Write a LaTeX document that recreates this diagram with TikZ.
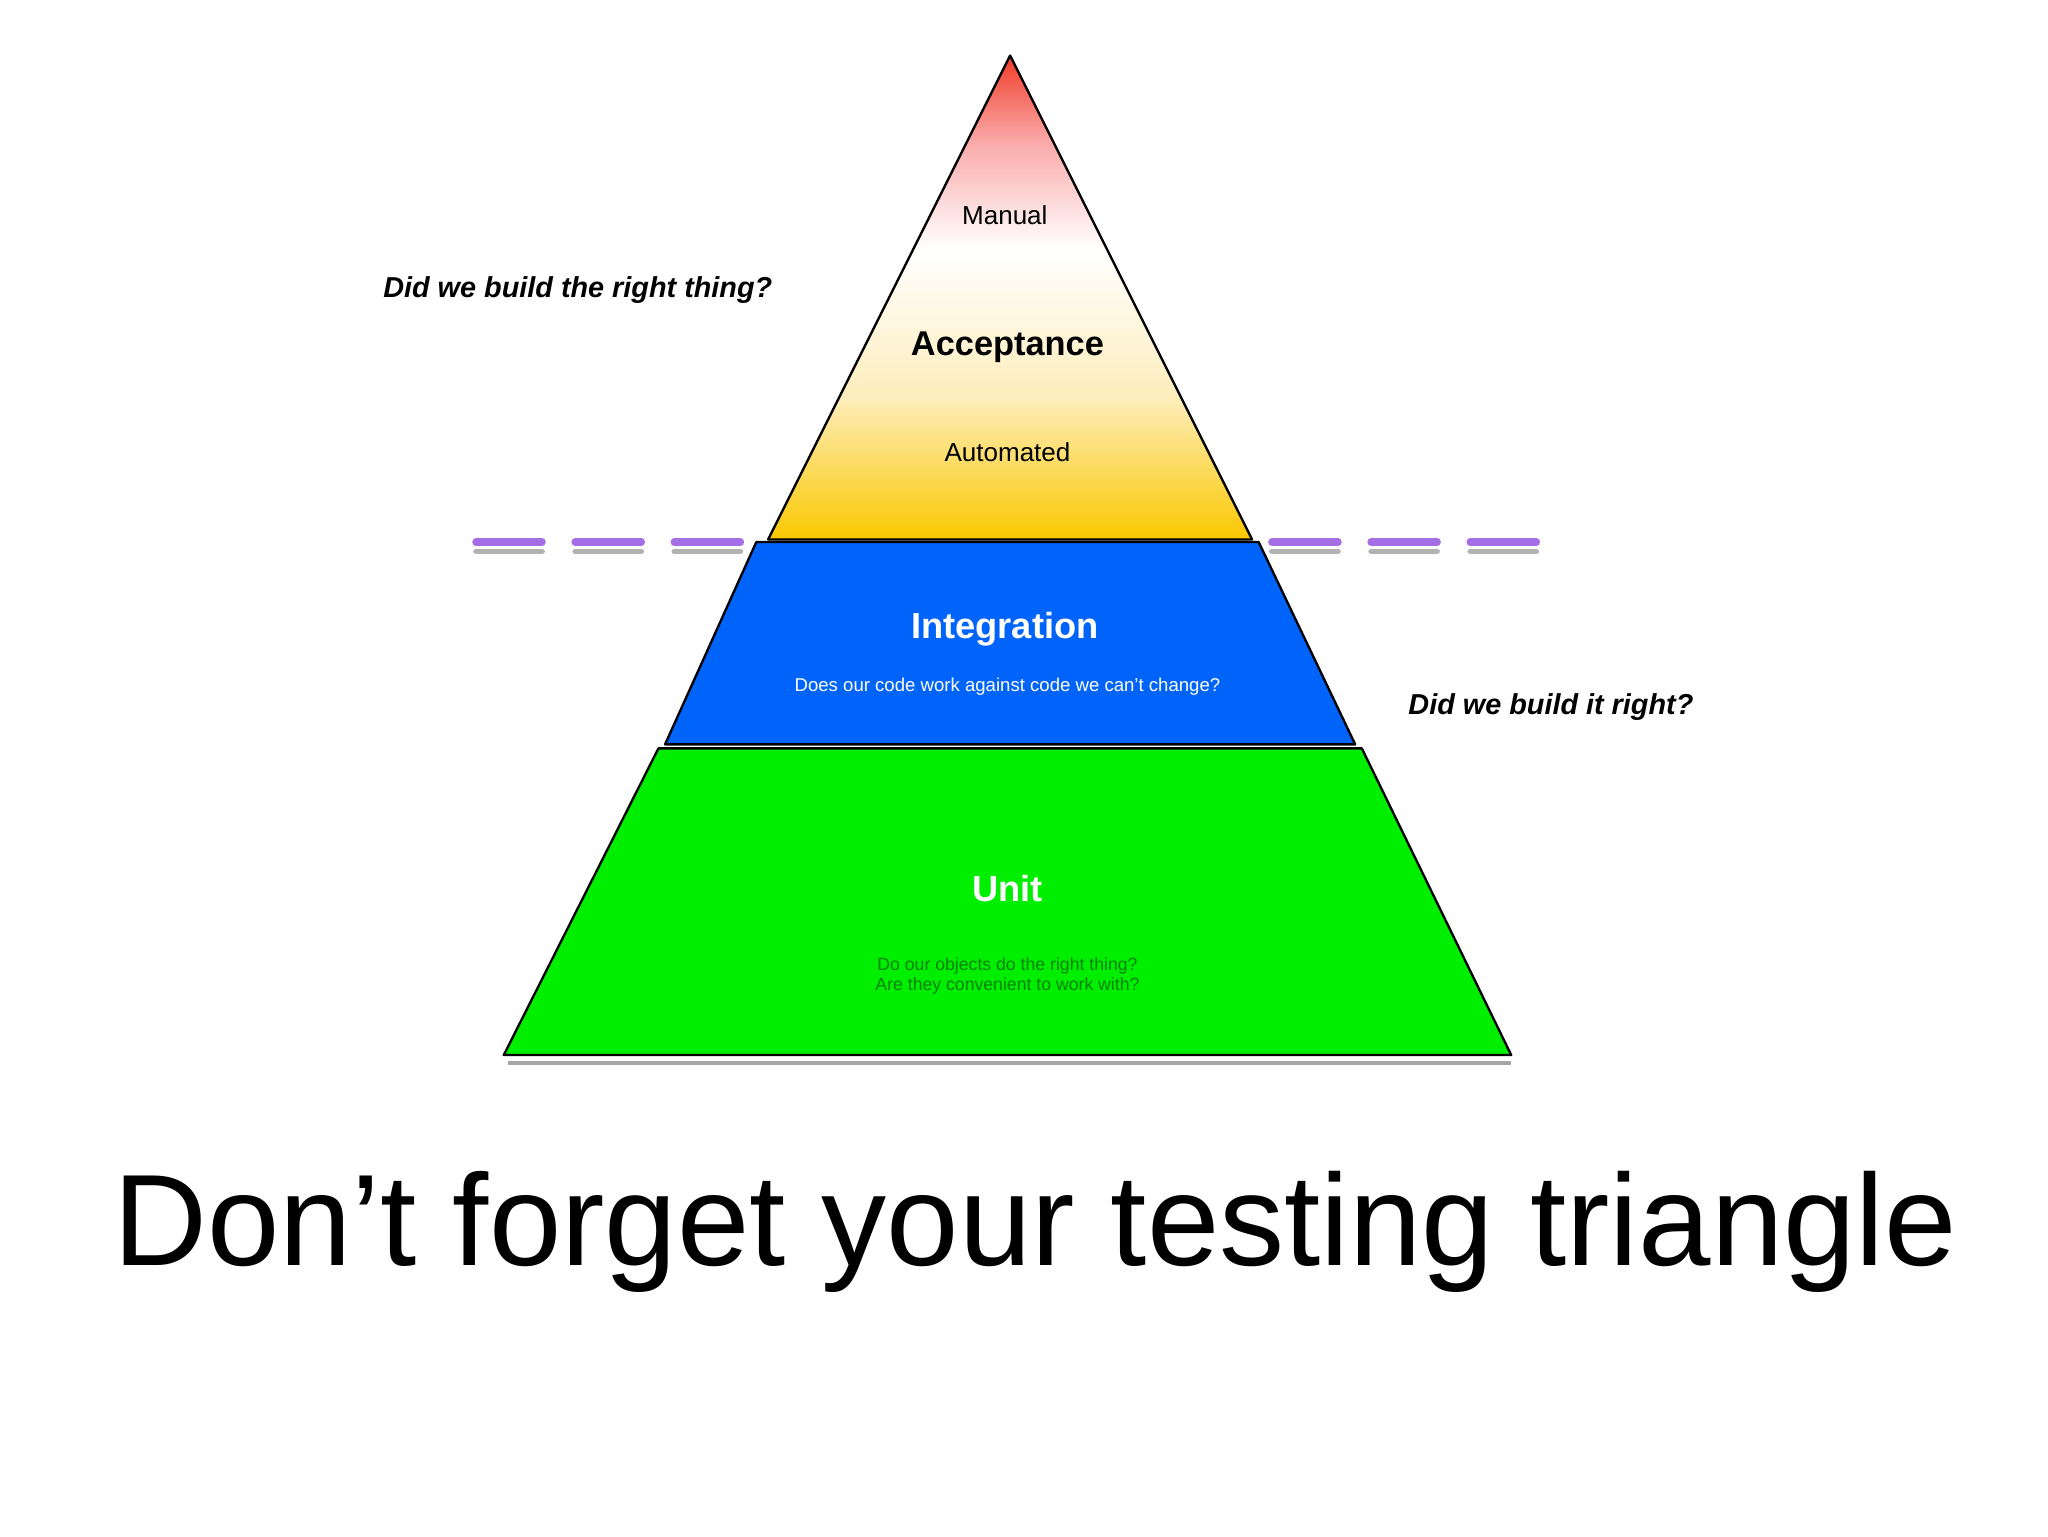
\documentclass[tikz,border=0pt]{standalone}
\usepackage{fontspec}
\setmainfont{Liberation Sans}
\usetikzlibrary{shadows}
\definecolor{gold}{RGB}{250,200,0}
\definecolor{pale}{RGB}{253,238,190}
\definecolor{pink}{RGB}{250,170,170}
\definecolor{tred}{RGB}{240,60,40}
\definecolor{iblue}{RGB}{0,100,250}
\definecolor{ugreen}{RGB}{0,238,0}
\definecolor{dpurple}{RGB}{165,110,230}
\definecolor{ugtext}{RGB}{0,130,0}
\pgfdeclareverticalshading{acc}{100bp}{color(0bp)=(gold); color(25bp)=(gold); color(40bp)=(pale); color(55bp)=(white); color(66bp)=(pink); color(75bp)=(tred); color(100bp)=(tred)}
\newcommand{\fs}[1]{\fontsize{#1}{#1}\selectfont}
\tikzset{
  layer/.style={draw=black, line width=2.5pt, line join=round},
  dashseg/.style={draw=dpurple, line width=8pt, line cap=round},
  dashshadow/.style={draw=gray!60, line width=6pt, line cap=round},
  lbl/.style={inner sep=0pt, anchor=center}
}
\begin{document}
\begin{tikzpicture}[x=0.05cm,y=-0.05cm]
\useasboundingbox (0,0) rectangle (1549,1162);
\fill[white] (0,0) rectangle (1549,1162);
% shadow under pyramid
\draw[gray!70, line width=5pt] (384,804) -- (1143,804);
% layers
\path[layer, shading=acc] (764,42) -- (947,408) -- (581,408) -- cycle;
\path[layer, fill=iblue] (572,410) -- (952,410) -- (1025,563) -- (503,563) -- cycle;
\path[layer, fill=ugreen] (498,566) -- (1030,566) -- (1143,798) -- (381,798) -- cycle;
% dashes
\foreach \a/\b [count=\i] in {360/410,435/485,510/560,962/1012,1037/1087,1112/1162}{
  \coordinate (s\i) at (\a,417); \coordinate (e\i) at (\b,417);
  \draw[dashshadow] (s\i) -- (e\i);
  \coordinate (ds\i) at (\a,410); \coordinate (de\i) at (\b,410);
  \draw[dashseg] (ds\i) -- (de\i);
}
% texts
\node[lbl] (manual) at (760,163) {\fs{28}Manual};
\node[lbl] (acc) at (762,263) {\fs{37}\bfseries Acceptance};
\node[lbl] (auto) at (762,342) {\fs{28}Automated};
\node[lbl, text=white] (integ) at (760,476) {\fs{39}\bfseries Integration};
\node[lbl, text=white] (integq) at (762,519) {\fs{20}Does our code work against code we can’t change?};
\node[lbl, text=white] (unit) at (762,672) {\fs{39}\bfseries Unit};
\node[lbl, text=ugtext, align=center] (unitq) at (762,738) {\fs{19}Do our objects do the right thing?\\[3pt]\fs{19}Are they convenient to work with?};
\node[lbl] (q1) at (437,219) {\fs{31}\bfseries\itshape Did we build the right thing?};
\node[lbl] (q2) at (1173,535) {\fs{31}\bfseries\itshape Did we build it right?};
\node[lbl] (title) at (783,932) {\fs{140}Don’t forget your testing triangle};
\end{tikzpicture}
\end{document}
